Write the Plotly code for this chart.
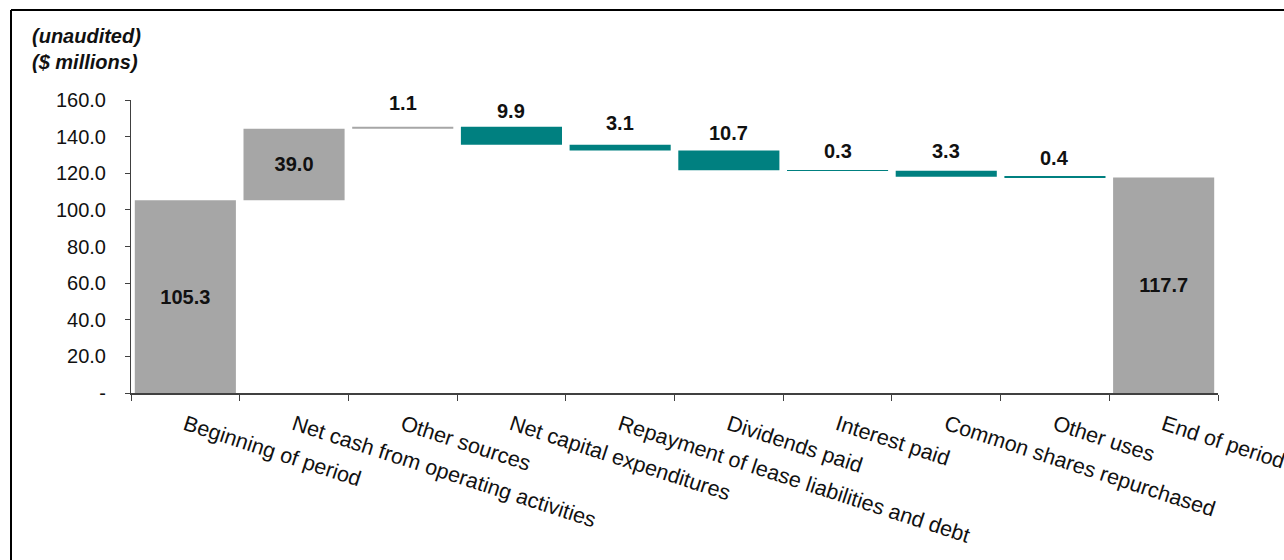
import plotly.graph_objects as go

categories = ["Beginning of period", "Net cash from operating activities", "Other sources",
              "Net capital expenditures", "Repayment of lease liabilities and debt",
              "Dividends paid", "Interest paid", "Common shares repurchased",
              "Other uses", "End of period"]
values = [105.3, 39.0, 1.1, -9.9, -3.1, -10.7, -0.3, -3.3, -0.4, 117.7]
kinds = ["total", "relative", "relative", "relative", "relative",
         "relative", "relative", "relative", "relative", "total"]
y_ticks = [0, 20, 40, 60, 80, 100, 120, 140, 160]
y_ticktext = ["-", "20.0", "40.0", "60.0", "80.0", "100.0", "120.0", "140.0", "160.0"]

# pixel gap between bar top and the centre of its outside value label (style)
label_gap = [0, 0, 24, 16, 22, 18, 19, 20, 19, 0]

GRAY = "#A6A6A6"
TEAL = "#008080"
FONT = "Liberation Sans, Arial, sans-serif"
TXT = "#111111"

bases, heights, colors = [], [], []
running = 0.0
for v, k in zip(values, kinds):
    if k == "total":
        bases.append(0.0); heights.append(v); colors.append(GRAY)
        running = v
    elif v >= 0:
        bases.append(running); heights.append(v); colors.append(GRAY)
        running += v
    else:
        running += v
        bases.append(running); heights.append(-v); colors.append(TEAL)

inside = [k == "total" or (h >= 5 and c == GRAY) for k, h, c in zip(kinds, heights, colors)]
texts = [f"<b>{abs(v):.1f}</b>" if ins else "" for v, ins in zip(values, inside)]

fig = go.Figure(go.Bar(
    x=categories, y=heights, base=bases,
    marker=dict(color=colors, line=dict(width=0)),
    text=texts, textposition="inside", insidetextanchor="middle",
    textfont=dict(family=FONT, size=20, color=TXT),
    hoverinfo="skip",
))

for c, v, b, h, ins, g in zip(categories, values, bases, heights, inside, label_gap):
    if not ins:
        fig.add_annotation(x=c, y=b + h, text=f"<b>{abs(v):.1f}</b>", showarrow=False,
                           yanchor="middle", yshift=g,
                           font=dict(family=FONT, size=20, color=TXT))

plot_h = 293.0
plot_w = 1087.0
def px_x(p):
    return (p - 131) / plot_w
def px_y(p):
    return (393 - p) / plot_h

# border lines
fig.add_shape(type="line", xref="paper", yref="paper", x0=px_x(11), x1=px_x(1300),
              y0=px_y(10), y1=px_y(10), line=dict(color="black", width=2))
fig.add_shape(type="line", xref="paper", yref="paper", x0=px_x(11), x1=px_x(11),
              y0=px_y(10), y1=px_y(580), line=dict(color="black", width=2))

fig.add_annotation(xref="paper", yref="paper", x=px_x(30), y=px_y(36), xanchor="left",
                   yanchor="middle", showarrow=False, text="<b><i>(unaudited)</i></b>",
                   font=dict(family=FONT, size=20, color=TXT))
fig.add_annotation(xref="paper", yref="paper", x=px_x(30), y=px_y(62), xanchor="left",
                   yanchor="middle", showarrow=False, text="<b><i>($ millions)</i></b>",
                   font=dict(family=FONT, size=20, color=TXT))

fig.update_layout(
    width=1284, height=560,
    margin=dict(l=131, r=66, t=100, b=167, autoexpand=False),
    plot_bgcolor="white", paper_bgcolor="white",
    bargap=0.07, showlegend=False,
    font=dict(family=FONT, size=20, color=TXT),
)
fig.update_xaxes(type="category", range=[-0.5, 9.5], tickson="boundaries",
                 ticks="outside", ticklen=6, tickcolor="#404040", automargin=False,
                 showline=True, linecolor="#404040", linewidth=2,
                 tickangle=18, showgrid=False, ticklabelstandoff=9,
                 tickfont=dict(family=FONT, size=21.5, color=TXT))
fig.update_yaxes(range=[0, 160], tickvals=y_ticks, ticktext=y_ticktext,
                 ticks="outside", ticklen=5, tickcolor="#404040", automargin=False,
                 showline=True, linecolor="#404040", linewidth=1,
                 showgrid=False, zeroline=False, ticklabelstandoff=15,
                 tickfont=dict(family=FONT, size=20, color=TXT))

fig.write_html("out.html")
